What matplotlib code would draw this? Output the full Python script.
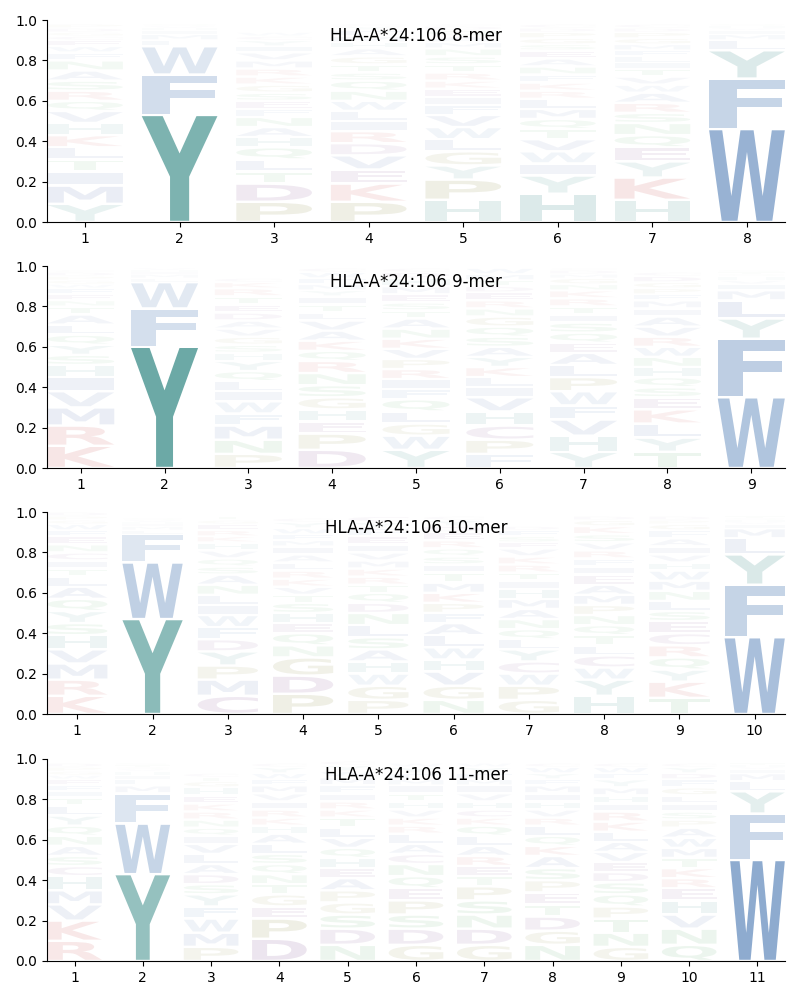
import matplotlib
matplotlib.use("Agg")
import matplotlib.pyplot as plt
from matplotlib.textpath import TextPath
from matplotlib.patches import PathPatch
from matplotlib.font_manager import FontProperties
import matplotlib.transforms as mtransforms

allele = "HLA-A*24:106"

# amino acid frequencies per position
mer8 = [
    {'Y': .09, 'M': .09, 'I': .07, 'T': .06, 'L': .06, 'K': .06, 'H': .06, 'V': .06, 'Q': .05, 'R': .05,
     'S': .05, 'A': .05, 'F': .04, 'N': .05, 'W': .03, 'E': .03, 'C': .02, 'G': .02, 'D': .02, 'P': .02},
    {'Y': .53, 'F': .20, 'W': .14, 'L': .03, 'M': .03, 'I': .02, 'H': .01, 'V': .01, 'Q': .01},
    {'P': .10, 'D': .09, 'T': .06, 'L': .06, 'Q': .06, 'H': .05, 'A': .05, 'N': .05, 'F': .04, 'E': .04,
     'S': .04, 'G': .04, 'K': .04, 'R': .04, 'M': .04, 'V': .04, 'I': .03, 'Y': .03, 'C': .02, 'W': .02},
    {'P': .10, 'K': .09, 'E': .07, 'V': .07, 'D': .06, 'R': .06, 'I': .05, 'L': .05, 'W': .05, 'N': .05,
     'Q': .05, 'S': .04, 'T': .04, 'G': .04, 'A': .04, 'H': .03, 'M': .03, 'F': .03, 'Y': .02, 'C': .01},
    {'H': .11, 'P': .10, 'Y': .07, 'G': .07, 'L': .06, 'W': .06, 'V': .06, 'F': .05, 'I': .04, 'E': .04,
     'K': .04, 'R': .04, 'T': .04, 'S': .04, 'M': .03, 'A': .03, 'N': .04, 'Q': .03, 'D': .02, 'C': .01},
    {'H': .14, 'Y': .09, 'I': .06, 'W': .06, 'V': .06, 'T': .05, 'Q': .05, 'M': .05, 'L': .05, 'R': .04,
     'K': .04, 'F': .04, 'N': .04, 'A': .04, 'E': .04, 'S': .03, 'G': .03, 'P': .03, 'D': .02, 'C': .02},
    {'H': .11, 'K': .11, 'Y': .08, 'E': .07, 'Q': .06, 'N': .06, 'S': .05, 'R': .05, 'A': .05, 'I': .03,
     'L': .03, 'W': .04, 'V': .04, 'T': .04, 'F': .03, 'M': .03, 'G': .03, 'P': .03, 'D': .02, 'C': .02},
    {'W': .46, 'F': .25, 'Y': .14, 'L': .05, 'M': .03, 'I': .02, 'V': .01, 'H': .01, 'Q': .01},
]

mer9 = [
    {'K': .11, 'R': .10, 'M': .09, 'V': .08, 'I': .07, 'H': .06, 'S': .05, 'Y': .05, 'Q': .05, 'L': .05,
     'A': .05, 'T': .04, 'N': .03, 'E': .03, 'F': .03, 'W': .02, 'G': .02, 'P': .02, 'D': .02, 'C': .01},
    {'Y': .60, 'F': .19, 'W': .13, 'L': .02, 'M': .02, 'I': .01, 'H': .01, 'V': .01},
    {'P': .07, 'F': .06, 'N': .07, 'I': .05, 'M': .07, 'W': .06, 'L': .05, 'H': .04, 'S': .04, 'Q': .05,
     'Y': .05, 'G': .04, 'V': .04, 'A': .04, 'D': .04, 'E': .04, 'T': .04, 'K': .03, 'R': .04, 'C': .02},
    {'D': .09, 'P': .08, 'E': .06, 'H': .06, 'G': .06, 'S': .06, 'N': .06, 'R': .06, 'Q': .05, 'K': .05,
     'A': .05, 'V': .05, 'L': .04, 'T': .04, 'I': .04, 'Y': .03, 'M': .03, 'F': .03, 'W': .03, 'C': .02},
    {'Y': .09, 'W': .07, 'G': .06, 'L': .06, 'F': .05, 'I': .05, 'R': .05, 'P': .05, 'V': .05, 'K': .05,
     'N': .05, 'Q': .06, 'A': .05, 'T': .04, 'S': .04, 'E': .04, 'M': .04, 'H': .04, 'D': .03, 'C': .02},
    {'F': .07, 'P': .07, 'C': .07, 'H': .07, 'V': .07, 'I': .05, 'L': .05, 'K': .05, 'Y': .05, 'A': .05,
     'S': .05, 'Q': .05, 'G': .05, 'N': .04, 'R': .04, 'E': .04, 'D': .03, 'T': .03, 'M': .03, 'W': .03},
    {'Y': .08, 'H': .08, 'F': .07, 'W': .07, 'P': .07, 'V': .08, 'L': .06, 'I': .04, 'E': .05, 'T': .04,
     'A': .06, 'Q': .05, 'S': .05, 'R': .04, 'K': .04, 'N': .03, 'G': .03, 'M': .02, 'D': .02, 'C': .01},
    {'T': .08, 'Y': .07, 'L': .07, 'K': .07, 'E': .06, 'S': .05, 'Q': .05, 'H': .05, 'N': .05, 'W': .05,
     'R': .05, 'V': .05, 'A': .05, 'I': .04, 'M': .04, 'F': .03, 'P': .03, 'G': .03, 'D': .03, 'C': .02},
    {'W': .35, 'F': .29, 'Y': .10, 'L': .09, 'M': .05, 'I': .03, 'V': .02, 'H': .02, 'Q': .01, 'T': .01,
     'S': .01},
]

mer10 = [
    {'K': .09, 'R': .08, 'M': .08, 'V': .07, 'H': .07, 'S': .06, 'Y': .06, 'Q': .06, 'A': .06, 'L': .05,
     'T': .04, 'I': .04, 'C': .04, 'N': .04, 'E': .04, 'F': .03, 'W': .03, 'G': .02, 'P': .02, 'D': .02},
    {'Y': .47, 'W': .28, 'F': .14, 'L': .02, 'M': .02, 'I': .01, 'H': .01, 'V': .01, 'Q': .01},
    {'C': .09, 'M': .08, 'P': .07, 'Y': .07, 'D': .06, 'F': .06, 'W': .06, 'I': .05, 'L': .05, 'N': .05,
     'A': .05, 'S': .04, 'Q': .04, 'V': .04, 'H': .04, 'K': .03, 'R': .03, 'E': .03, 'G': .02, 'T': .02},
    {'P': .10, 'D': .09, 'G': .09, 'N': .06, 'Q': .06, 'E': .05, 'H': .05, 'S': .05, 'T': .04, 'V': .04,
     'K': .04, 'R': .04, 'L': .04, 'A': .04, 'I': .04, 'M': .03, 'F': .03, 'W': .03, 'Y': .03, 'C': .02},
    {'P': .07, 'G': .07, 'W': .06, 'H': .06, 'A': .06, 'S': .06, 'L': .06, 'N': .06, 'D': .05, 'Q': .05,
     'T': .04, 'R': .04, 'K': .04, 'M': .04, 'V': .04, 'I': .04, 'E': .04, 'F': .04, 'Y': .03, 'C': .03},
    {'N': .07, 'G': .07, 'V': .07, 'H': .06, 'W': .06, 'L': .06, 'A': .06, 'F': .05, 'P': .05, 'K': .05,
     'M': .05, 'T': .05, 'I': .04, 'S': .04, 'Q': .04, 'R': .04, 'E': .04, 'D': .03, 'Y': .03, 'C': .02},
    {'G': .07, 'P': .07, 'W': .06, 'C': .06, 'Y': .06, 'L': .05, 'Q': .05, 'N': .05, 'A': .05, 'M': .05,
     'H': .05, 'I': .04, 'T': .04, 'R': .04, 'K': .04, 'E': .03, 'V': .04, 'S': .03, 'F': .03, 'D': .02},
    {'H': .09, 'Y': .08, 'W': .06, 'C': .06, 'L': .05, 'T': .05, 'Q': .05, 'N': .05, 'P': .05, 'M': .05,
     'A': .05, 'E': .05, 'I': .04, 'F': .04, 'R': .04, 'V': .04, 'S': .04, 'K': .04, 'G': .03, 'D': .02},
    {'T': .08, 'K': .08, 'Y': .06, 'Q': .06, 'R': .06, 'C': .06, 'E': .06, 'S': .05, 'L': .05, 'N': .05,
     'M': .05, 'W': .05, 'H': .04, 'V': .04, 'I': .04, 'A': .04, 'F': .04, 'G': .03, 'P': .02, 'D': .02},
    {'W': .38, 'F': .26, 'Y': .15, 'L': .08, 'M': .05, 'I': .02, 'V': .01, 'H': .01, 'Q': .01, 'T': .01},
]

mer11 = [
    {'R': .10, 'K': .10, 'V': .08, 'M': .07, 'H': .07, 'C': .05, 'S': .05, 'A': .05, 'N': .05, 'Q': .05,
     'Y': .05, 'L': .05, 'T': .04, 'I': .03, 'F': .03, 'E': .03, 'W': .02, 'G': .02, 'P': .02, 'D': .02},
    {'Y': .43, 'W': .25, 'F': .15, 'M': .04, 'L': .03, 'I': .02, 'H': .02, 'V': .01, 'Q': .01, 'T': .01,
     'S': .01},
    {'P': .07, 'M': .07, 'W': .07, 'F': .06, 'Y': .06, 'S': .05, 'D': .05, 'A': .05, 'L': .05, 'V': .05,
     'I': .04, 'Q': .04, 'N': .04, 'R': .04, 'K': .04, 'E': .04, 'H': .04, 'G': .03, 'T': .02, 'C': .02},
    {'D': .11, 'P': .10, 'E': .06, 'G': .06, 'T': .05, 'N': .05, 'Q': .05, 'S': .05, 'L': .05, 'A': .05,
     'H': .04, 'K': .04, 'R': .04, 'I': .04, 'V': .04, 'M': .04, 'F': .03, 'W': .03, 'Y': .03, 'C': .02},
    {'N': .08, 'D': .08, 'S': .07, 'G': .06, 'P': .06, 'A': .06, 'E': .05, 'H': .05, 'Q': .05, 'V': .05,
     'L': .05, 'T': .05, 'K': .04, 'R': .04, 'I': .04, 'F': .04, 'M': .04, 'W': .03, 'Y': .03, 'C': .02},
    {'G': .08, 'D': .08, 'S': .07, 'P': .07, 'E': .06, 'Q': .06, 'N': .06, 'C': .05, 'A': .05, 'L': .05,
     'R': .04, 'K': .04, 'V': .04, 'H': .04, 'T': .04, 'I': .04, 'M': .03, 'F': .03, 'Y': .03, 'W': .02},
    {'G': .08, 'D': .08, 'N': .07, 'S': .07, 'P': .07, 'T': .05, 'E': .05, 'R': .05, 'A': .05, 'L': .05,
     'Q': .05, 'K': .04, 'C': .04, 'H': .04, 'V': .04, 'I': .04, 'M': .03, 'F': .03, 'Y': .03, 'W': .02},
    {'N': .08, 'G': .07, 'D': .07, 'T': .06, 'E': .06, 'P': .06, 'S': .06, 'A': .06, 'K': .05, 'Q': .05,
     'L': .05, 'R': .04, 'V': .04, 'H': .04, 'I': .04, 'M': .04, 'F': .03, 'Y': .03, 'W': .03, 'C': .02},
    {'G': .07, 'N': .07, 'T': .07, 'P': .06, 'Q': .06, 'S': .06, 'D': .05, 'E': .05, 'V': .05, 'A': .05,
     'L': .05, 'K': .05, 'R': .05, 'I': .04, 'H': .04, 'M': .04, 'Y': .04, 'F': .03, 'W': .03, 'C': .02},
    {'Q': .08, 'N': .08, 'V': .07, 'H': .07, 'E': .06, 'R': .05, 'K': .05, 'T': .05, 'M': .05, 'W': .05,
     'A': .05, 'P': .04, 'S': .04, 'I': .04, 'L': .04, 'G': .04, 'F': .04, 'D': .03, 'Y': .03, 'C': .02},
    {'W': .50, 'F': .23, 'Y': .11, 'L': .05, 'M': .04, 'I': .02, 'V': .01, 'H': .01, 'T': .01},
]

panels = [("8-mer", mer8), ("9-mer", mer9), ("10-mer", mer10), ("11-mer", mer11)]

# colour groups
teal = (0.04, 0.44, 0.42)
blue = (0.12, 0.35, 0.63)
hydro = (0.10, 0.26, 0.58)
red = (0.75, 0.12, 0.12)
purple = (0.35, 0.08, 0.43)
olive = (0.40, 0.40, 0.03)
green = (0.08, 0.55, 0.16)
colors = {}
for aa in 'YH':
    colors[aa] = teal
for aa in 'WF':
    colors[aa] = blue
for aa in 'LIVMA':
    colors[aa] = hydro
for aa in 'KR':
    colors[aa] = red
for aa in 'DEC':
    colors[aa] = purple
for aa in 'PG':
    colors[aa] = olive
for aa in 'NQST':
    colors[aa] = green

fp = FontProperties(family='DejaVu Sans', weight='bold')


def draw_letter(ax, ch, xc, y, w, h, color, alpha):
    path = TextPath((0, 0), ch, size=1, prop=fp)
    ext = path.get_extents()
    pad = min(0.006, 0.15 * h)
    hh = h - 2 * pad
    tr = (mtransforms.Affine2D()
          .translate(-ext.x0, -ext.y0)
          .scale(w / ext.width, hh / ext.height)
          .translate(xc - w / 2, y + pad))
    ax.add_patch(PathPatch(tr.transform_path(path), facecolor=color,
                           edgecolor='none', alpha=min(1.0, alpha)))


fig = plt.figure(figsize=(8, 10), dpi=100)
bottoms = [0.778, 0.532, 0.286, 0.039]

for (name, data), b in zip(panels, bottoms):
    ax = fig.add_axes([0.059, b, 0.922, 0.202])
    n = len(data)
    for i, col in enumerate(data):
        pos = i + 1
        y = 0.0
        for aa, f in sorted(col.items(), key=lambda kv: -kv[1]):
            draw_letter(ax, aa, pos, y, 0.8, f, colors[aa], f)
            y += f
    ax.set_xlim(0.6, n + 0.4)
    ax.set_ylim(0, 1)
    ax.set_xticks(range(1, n + 1))
    ax.set_yticks([0, 0.2, 0.4, 0.6, 0.8, 1.0])
    ax.spines['top'].set_visible(False)
    ax.spines['right'].set_visible(False)
    ax.text(0.5, 0.92, f"{allele} {name}", transform=ax.transAxes,
            ha='center', va='center', fontsize=12)

fig.savefig("out.png", dpi=100)
